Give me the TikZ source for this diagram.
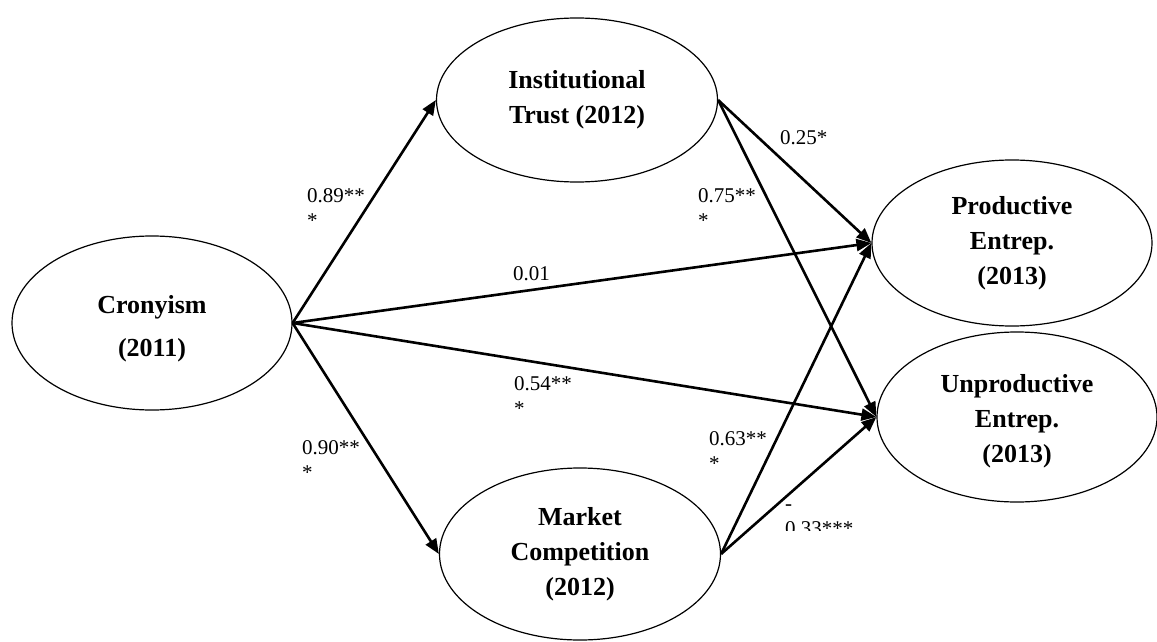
\documentclass[tikz,border=0pt]{standalone}
\usepackage{fontspec}
\setmainfont{Liberation Serif}
\usetikzlibrary{shapes.geometric,arrows.meta}
\tikzset{
  latent/.style={draw=black, line width=1.2pt, ellipse, inner sep=0pt, align=center,
    font=\fontsize{26}{35}\selectfont\bfseries},
  path/.style={line width=2.6pt, -{Triangle[length=15pt,width=12pt]}},
  coef/.style={anchor=north west, inner sep=0pt, align=left,
    font=\fontsize{21}{25}\selectfont}
}
\newcommand{\tp}{\rule{0pt}{15pt}}
\begin{document}
\begin{tikzpicture}[x=1pt,y=-1pt]
\useasboundingbox (0,0) rectangle (1157,642);
\node[latent, minimum width=280pt, minimum height=174pt] (cron) at (152,323) {\rule{0pt}{29pt}Cronyism\\[8pt](2011)};
\node[latent, minimum width=281pt, minimum height=164pt] (it) at (577,100) {Institutional\\Trust (2012)};
\node[latent, minimum width=281pt, minimum height=172pt] (mc) at (580,554) {Market\\Competition\\(2012)};
\node[latent, minimum width=280pt, minimum height=166pt] (prod) at (1012,243) {Productive\\Entrep.\\(2013)};
\node[latent, minimum width=280pt, minimum height=170pt] (unprod) at (1017,417) {\rule{0pt}{26pt}Unproductive\\Entrep.\\(2013)};

\draw[path] (cron.east) -- (it.west);
\draw[path] (cron.east) -- (mc.west);
\draw[path] (cron.east) -- (prod.west);
\draw[path] (cron.east) -- (unprod.west);
\draw[path] (it.east) -- (prod.west);
\draw[path] (it.east) -- (unprod.west);
\draw[path] (mc.east) -- (prod.west);
\draw[path] (mc.east) -- (unprod.west);

\node[coef] (l1) at (307,187) {\tp0.89**\\*};
\node[coef] (l2) at (302,439) {\tp0.90**\\*};
\node[coef] (l3) at (513,265) {\tp0.01};
\node[coef] (l4) at (514,375) {\tp0.54**\\*};
\node[coef] (l5) at (780,129) {\tp0.25*};
\node[coef] (l6) at (698,187) {\tp0.75**\\*};
\node[coef] (l7) at (709,430) {\tp0.63**\\*};
\begin{scope}
\clip (760,480) rectangle (900,530);
\node[coef] (l8) at (785,495) {\tp-\\0.33***};
\end{scope}
\end{tikzpicture}
\end{document}
